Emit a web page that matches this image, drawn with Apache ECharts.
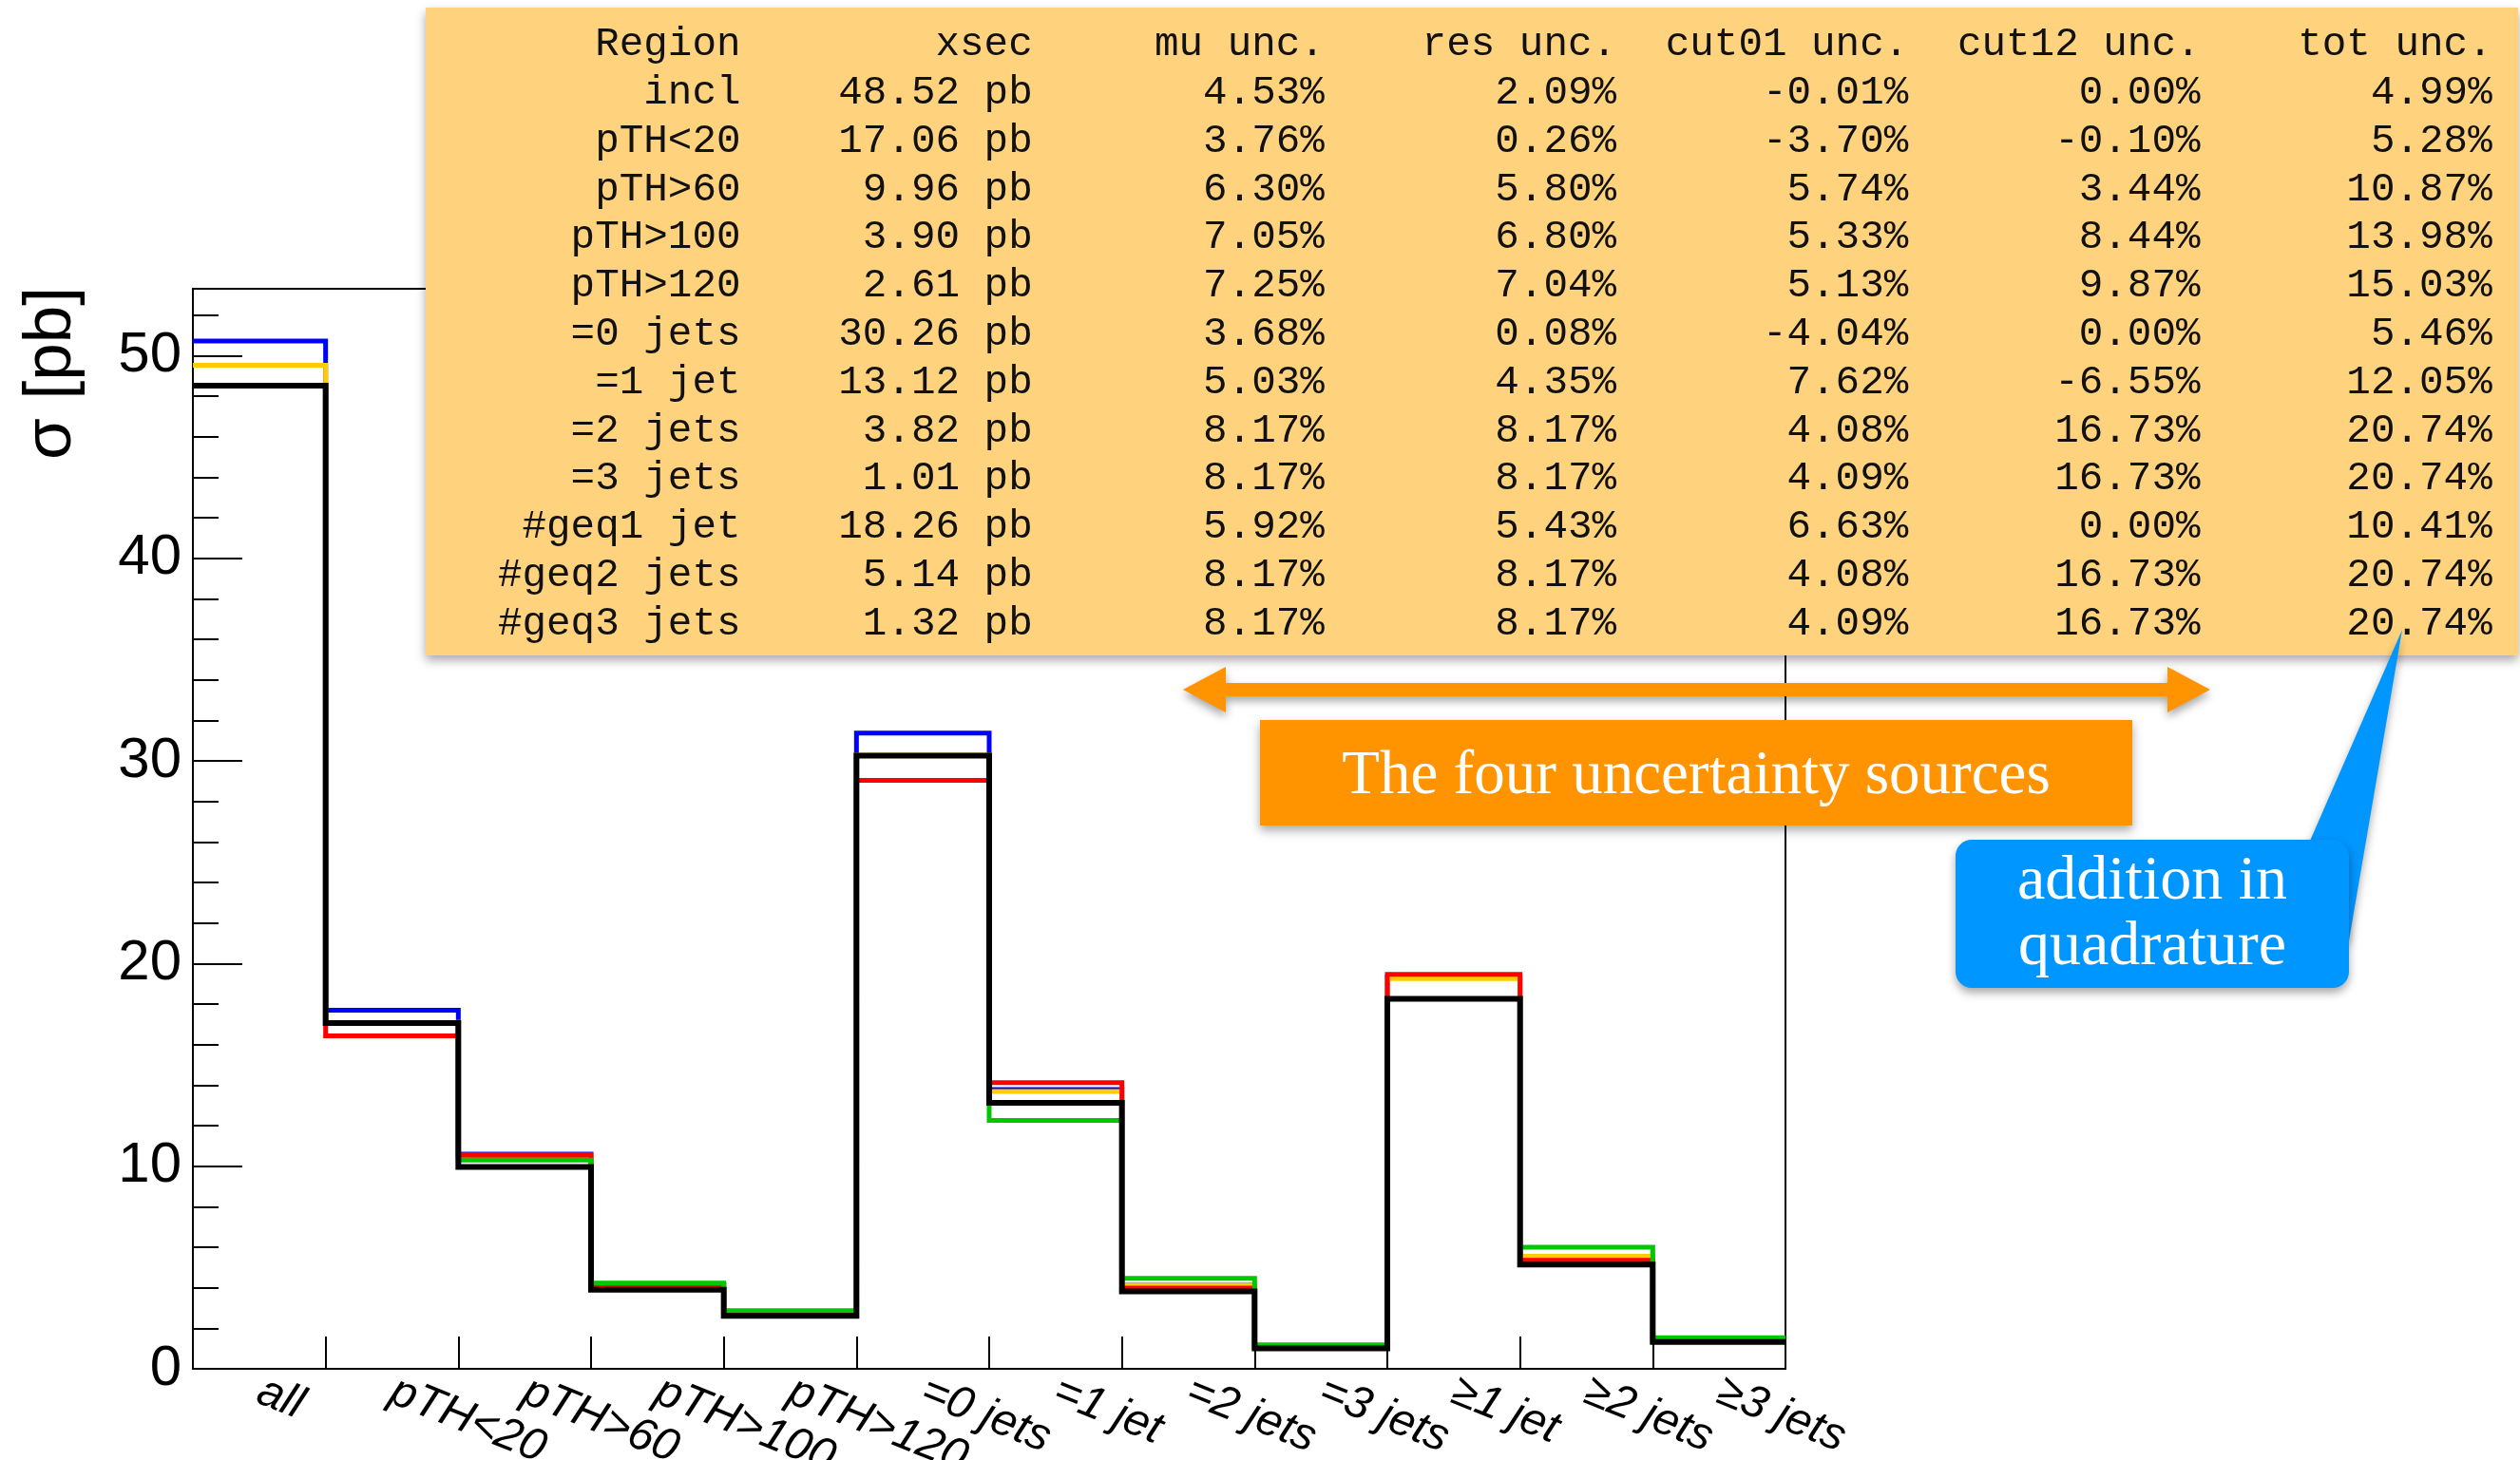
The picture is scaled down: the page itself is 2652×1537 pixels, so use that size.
<!DOCTYPE html>
<html>
<head>
<meta charset="utf-8">
<script src="https://cdn.jsdelivr.net/npm/echarts@6/dist/echarts.min.js"></script>
<style>
  html, body { margin: 0; padding: 0; background: #ffffff; }
  #chart { width: 2652px; height: 1537px; }
</style>
</head>
<body>
<div id="chart"></div>
<script>
// Bin labels along the x axis
const binLabels = ['all', 'pTH<20', 'pTH>60', 'pTH>100', 'pTH>120', '=0 jets', '=1 jet',
                   '=2 jets', '=3 jets', '≥1 jet', '≥2 jets', '≥3 jets'];

// Summary table contents
const tableHeader = ['Region', 'xsec', 'mu unc.', 'res unc.', 'cut01 unc.', 'cut12 unc.', 'tot unc.'];
const tableRegions = ['incl', 'pTH<20', 'pTH>60', 'pTH>100', 'pTH>120', '=0 jets', '=1 jet',
                      '=2 jets', '=3 jets', '#geq1 jet', '#geq2 jets', '#geq3 jets'];
const xsecPb      = [48.52, 17.06, 9.96, 3.90, 2.61, 30.26, 13.12, 3.82, 1.01, 18.26, 5.14, 1.32];
const muUncPct    = [4.53, 3.76, 6.30, 7.05, 7.25, 3.68, 5.03, 8.17, 8.17, 5.92, 8.17, 8.17];
const resUncPct   = [2.09, 0.26, 5.80, 6.80, 7.04, 0.08, 4.35, 8.17, 8.17, 5.43, 8.17, 8.17];
const cut01UncPct = [-0.01, -3.70, 5.74, 5.33, 5.13, -4.04, 7.62, 4.08, 4.09, 6.63, 4.08, 4.09];
const cut12UncPct = [0.00, -0.10, 3.44, 8.44, 9.87, 0.00, -6.55, 16.73, 16.73, 0.00, 16.73, 16.73];
const totUncPct   = [4.99, 5.28, 10.87, 13.98, 15.03, 5.46, 12.05, 20.74, 20.74, 10.41, 20.74, 20.74];

// Varied cross sections per bin [pb]
const xsecMuVar    = [50.72, 17.70, 10.59, 4.17, 2.80, 31.37, 13.78, 4.13, 1.09, 19.34, 5.56, 1.43];
const xsecResVar   = [49.53, 17.10, 10.54, 4.17, 2.79, 30.28, 13.69, 4.13, 1.09, 19.25, 5.56, 1.43];
const xsecCut01Var = [48.52, 16.43, 10.53, 4.11, 2.74, 29.04, 14.12, 3.98, 1.05, 19.47, 5.35, 1.37];
const xsecCut12Var = [48.52, 17.04, 10.30, 4.23, 2.87, 30.26, 12.26, 4.46, 1.18, 18.26, 6.00, 1.54];

// y axis tick labels
const yTickValues = [0, 10, 20, 30, 40, 50];

// Callout texts
const arrowBoxText = 'The four uncertainty sources';
const calloutLines = ['addition in', 'quadrature'];

// ---------------------------------------------------------------------------
// histogram outline: one point per bin low edge, plus the last upper edge
function stepPoints(vals) {
  const pts = vals.map((v, i) => [i, v]);
  pts.push([vals.length, vals[vals.length - 1]]);
  return pts;
}

function histSeries(name, vals, color, width, z) {
  return {
    name: name,
    type: 'line',
    step: 'end',
    data: stepPoints(vals),
    symbol: 'none',
    silent: true,
    animation: false,
    z: z,
    lineStyle: { color: color, width: width, cap: 'butt', join: 'miter' }
  };
}

// ---------------------------------------------------------------------------
// table graphic
const tableFont = '"Liberation Mono", "DejaVu Sans Mono", monospace';
const tableFontSize = 42.6;
const colRight0 = 779.5, colStep = 307.2;
const rowY0 = 47, rowStep = 50.8;

const pct = v => v.toFixed(2) + '%';
const tableRows = tableRegions.map((r, i) => [
  r,
  xsecPb[i].toFixed(2) + ' pb',
  pct(muUncPct[i]), pct(resUncPct[i]), pct(cut01UncPct[i]), pct(cut12UncPct[i]), pct(totUncPct[i])
]);

const tableTexts = [];
[tableHeader].concat(tableRows).forEach((row, ri) => {
  row.forEach((cell, ci) => {
    tableTexts.push({
      type: 'text',
      x: colRight0 + ci * colStep,
      y: rowY0 + ri * rowStep,
      z: 102,
      silent: true,
      style: {
        text: cell,
        fill: '#111111',
        fontFamily: tableFont,
        fontSize: tableFontSize,
        align: 'right',
        verticalAlign: 'middle'
      }
    });
  });
});

const serif = '"Liberation Serif", "DejaVu Serif", serif';
const shadow = { shadowBlur: 10, shadowOffsetX: 0, shadowOffsetY: 5, shadowColor: 'rgba(0,0,0,0.35)' };

const graphics = [
  // y axis title
  {
    type: 'text', x: 54, y: 393, rotation: Math.PI / 2, z: 50, silent: true,
    style: { text: 'σ [pb]', fill: '#000', fontFamily: '"Liberation Sans", Arial, sans-serif',
             fontSize: 71, align: 'center', verticalAlign: 'middle' }
  },
  // table background
  {
    type: 'rect', z: 100, silent: true,
    shape: { x: 448, y: 8, width: 2202, height: 682 },
    style: Object.assign({ fill: '#FFD37E' }, shadow)
  },
  // double-headed arrow over the four uncertainty columns
  {
    type: 'polygon', z: 100, silent: true,
    shape: { points: [
      [1245, 726], [1290, 702], [1290, 719], [2281, 719], [2281, 702],
      [2326, 726], [2281, 750], [2281, 733], [1290, 733], [1290, 750]
    ] },
    style: Object.assign({ fill: '#FF9300' }, shadow)
  },
  // orange label box
  {
    type: 'rect', z: 100, silent: true,
    shape: { x: 1326, y: 758, width: 918, height: 111 },
    style: Object.assign({ fill: '#FF9300' }, shadow)
  },
  {
    type: 'text', x: 1785, y: 818, z: 101, silent: true,
    style: { text: arrowBoxText, fill: '#ffffff', fontFamily: serif, fontSize: 65,
             align: 'center', verticalAlign: 'middle' }
  },
  // blue callout: pointer then body
  {
    type: 'polygon', z: 100, silent: true,
    shape: { points: [[2428, 892], [2528, 663], [2472, 990], [2440, 990]] },
    style: Object.assign({ fill: '#0096FF' }, shadow)
  },
  {
    type: 'rect', z: 100, silent: true,
    shape: { x: 2058, y: 884, width: 414, height: 156, r: 17 },
    style: Object.assign({ fill: '#0096FF' }, shadow)
  },
  {
    type: 'text', x: 2265, y: 929, z: 101, silent: true,
    style: { text: calloutLines[0], fill: '#ffffff', fontFamily: serif, fontSize: 66,
             align: 'center', verticalAlign: 'middle' }
  },
  {
    type: 'text', x: 2265, y: 998, z: 101, silent: true,
    style: { text: calloutLines[1], fill: '#ffffff', fontFamily: serif, fontSize: 66,
             align: 'center', verticalAlign: 'middle' }
  }
].concat(tableTexts);

// ---------------------------------------------------------------------------
const chart = echarts.init(document.getElementById('chart'), null, { renderer: 'canvas' });
const yMax = 53.3;

chart.setOption({
  backgroundColor: '#ffffff',
  animation: false,
  grid: {
    left: 203, right: 773, top: 304, bottom: 96,
    outerBoundsMode: 'none',
    containLabel: false,
    show: true, borderColor: '#000000', borderWidth: 2, backgroundColor: 'transparent'
  },
  xAxis: {
    type: 'value', min: 0, max: binLabels.length, position: 'bottom',
    splitLine: { show: false },
    axisLine: { show: true, lineStyle: { color: '#000', width: 2 } },
    axisTick: {
      show: true, inside: true, length: 34,
      customValues: binLabels.map((_, i) => i).concat([binLabels.length]),
      lineStyle: { color: '#000', width: 2 }
    },
    axisLabel: {
      show: true,
      customValues: binLabels.map((_, i) => i + 0.5),
      formatter: v => binLabels[Math.floor(v)],
      rotate: -22,
      margin: 22,
      color: '#000',
      fontFamily: '"Liberation Sans", Arial, sans-serif',
      fontStyle: 'italic',
      fontSize: 48
    }
  },
  yAxis: [
    {
      type: 'value', min: 0, max: yMax, position: 'left',
      splitLine: { show: false },
      axisLine: { show: true, lineStyle: { color: '#000', width: 2 } },
      axisTick: {
        show: true, inside: true, length: 52, customValues: yTickValues,
        lineStyle: { color: '#000', width: 2 }
      },
      axisLabel: {
        show: true, customValues: yTickValues, margin: 12, color: '#000',
        fontFamily: '"Liberation Sans", Arial, sans-serif', fontSize: 60
      }
    },
    {
      // minor ticks every 2 pb
      type: 'value', min: 0, max: yMax, interval: 2, position: 'left',
      splitLine: { show: false },
      axisLine: { show: false },
      axisLabel: { show: false },
      axisTick: { show: true, inside: true, length: 27, lineStyle: { color: '#000', width: 2 } }
    }
  ],
  series: [
    histSeries('mu', xsecMuVar, '#0000FF', 5, 2),
    histSeries('res', xsecResVar, '#FFCC00', 5, 3),
    histSeries('cut01', xsecCut01Var, '#FF0000', 5, 4),
    histSeries('cut12', xsecCut12Var, '#00C800', 5, 5),
    histSeries('nominal', xsecPb, '#000000', 6, 6)
  ],
  graphic: { elements: graphics }
});
</script>
</body>
</html>
